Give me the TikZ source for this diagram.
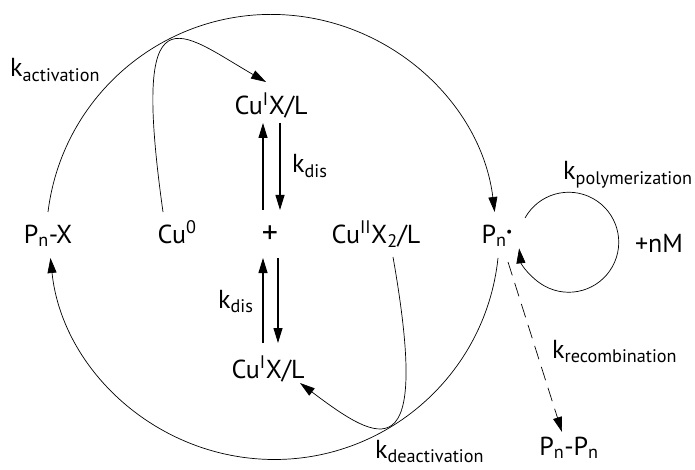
\documentclass[tikz,border=0pt]{standalone}
\usepackage{fontspec}
\setmainfont{PT Sans}
\usetikzlibrary{arrows.meta}

\newcommand{\specfont}{\fontsize{26}{30}\selectfont}
\newcommand{\raddot}{\raisebox{6.5pt}{\fontsize{14}{14}\selectfont\textbullet}}

\begin{document}
\begin{tikzpicture}[x=1pt, y=1pt,
    spec/.style={font=\specfont, inner sep=0pt, anchor=base},
    rate/.style={font=\specfont, inner sep=0pt, anchor=base west},
    arr/.style={-{Triangle[length=15pt,width=9pt]}, line width=0.7pt},
    eq/.style={-{Triangle[length=15pt,width=9pt]}, line width=1.1pt}
]
\useasboundingbox (0,0) rectangle (695,469);

% species
\node[spec] (PnX) at (48,226) {P\textsubscript{n}-X};
\node[spec] (Cu0) at (177,226) {Cu\textsuperscript{0}};
\node[spec, font=\fontsize{32}{32}\selectfont] (plus) at (270,226) {+};
\node[spec] (Cu2) at (376,226) {Cu\textsuperscript{II}X\textsubscript{2}/L};
\node[spec] (Pn) at (497,226) {P\textsubscript{n}\kern-0.5pt\raddot};
\node[spec] (nM) at (659,217) {+nM};
\node[spec] (Cu1top) at (271,354) {Cu\textsuperscript{I}X/L};
\node[spec] (Cu1bot) at (268,91) {Cu\textsuperscript{I}X/L};
\node[spec] (PnPn) at (569,14) {P\textsubscript{n}-P\textsubscript{n}};

% rate constants
\node[rate] (kact) at (10,392) {k\textsubscript{activation}};
\node[rate] (kdisa) at (292,296) {k\textsubscript{dis}};
\node[rate] (kdisb) at (218,161) {k\textsubscript{dis}};
\node[rate] (kpol) at (563,289) {k\textsubscript{polymerization}};
\node[rate] (krec) at (552,111) {k\textsubscript{recombination}};
\node[rate] (kdeact) at (375,11) {k\textsubscript{deactivation}};

% activation / deactivation cycle
\draw[arr] ([yshift=31pt]PnX.base) arc[start angle=173, end angle=7, radius=225];
\draw[arr] ([shift={(1pt,-15pt)}]Pn.base) arc[start angle=-6, end angle=-174, radius=225];
\draw[arr] ([shift={(-14pt,31pt)}]Cu0.base) to[out=98, in=150, out distance=232pt, in distance=100pt] ([shift={(-5pt,33pt)}]Cu1top.base);
\draw[arr] ([shift={(17pt,-14pt)}]Cu2.base) to[out=-80, in=-37, out distance=220pt, in distance=100pt] ([shift={(32pt,-5pt)}]Cu1bot.base);

% disproportionation
\draw[eq] ([shift={(-7pt,33pt)}]plus.base) -- ([shift={(-8pt,-8pt)}]Cu1top.base);
\draw[eq] ([shift={(9pt,-8pt)}]Cu1top.base) -- ([shift={(10pt,33pt)}]plus.base);
\draw[eq] ([shift={(-5pt,35pt)}]Cu1bot.base) -- ([shift={(-7pt,-15pt)}]plus.base);
\draw[eq] ([shift={(8pt,-15pt)}]plus.base) -- ([shift={(10pt,35pt)}]Cu1bot.base);

% propagation and termination
\draw[arr] ([shift={(28pt,25pt)}]Pn.base) arc[start angle=151, end angle=-173, radius=50];
\draw[arr, dash pattern=on 14pt off 8pt] ([shift={(11pt,-19pt)}]Pn.base) -- ([shift={(-7pt,23pt)}]PnPn.base);
\end{tikzpicture}
\end{document}
